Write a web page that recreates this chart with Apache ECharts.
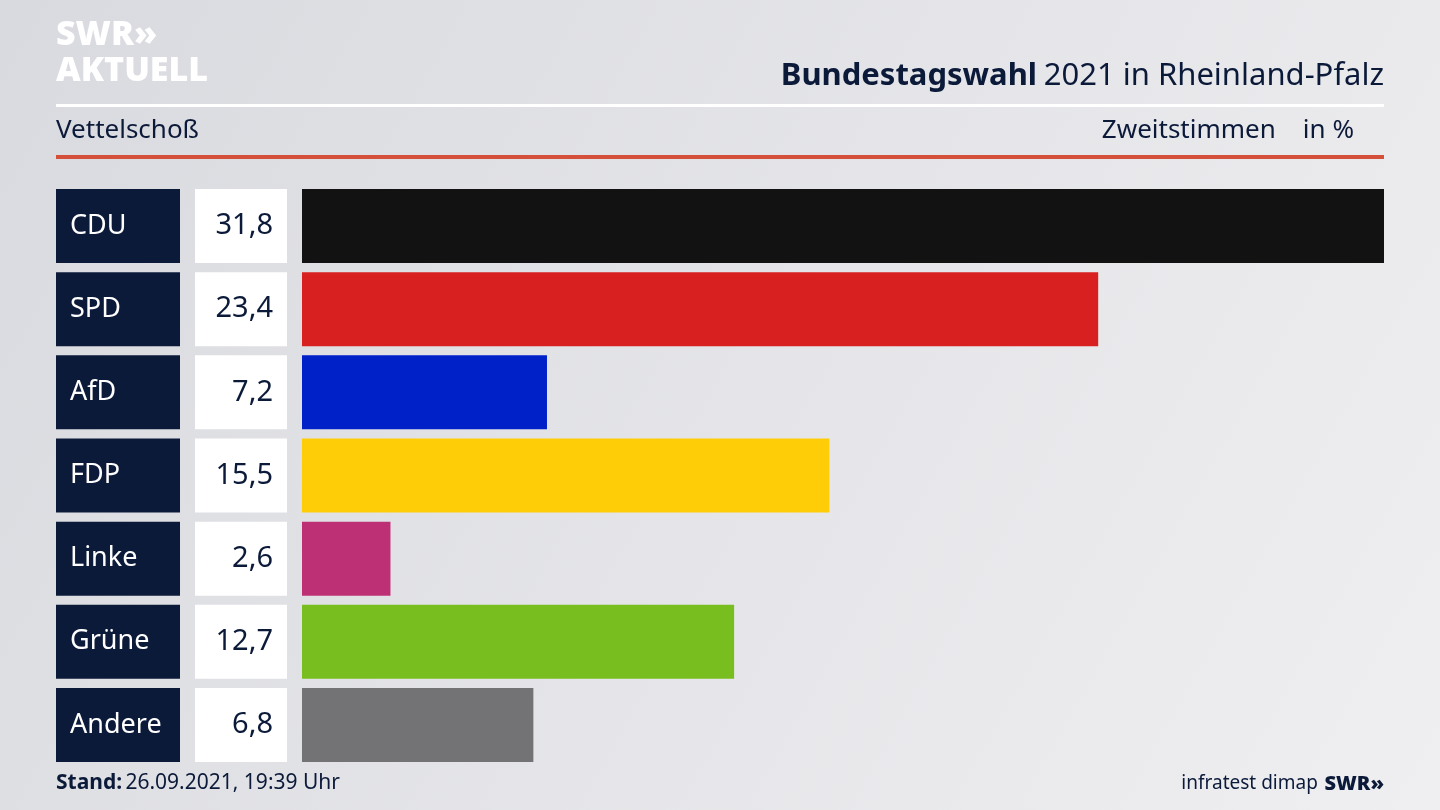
<!DOCTYPE html>
<html><head><meta charset="utf-8">
<script src="https://cdn.jsdelivr.net/npm/echarts@6/dist/echarts.min.js"></script>
<style>html,body{margin:0;padding:0}#c{width:1440px;height:810px}</style>
</head><body><div id="c"></div>
<script>
const parties = ['CDU', 'SPD', 'AfD', 'FDP', 'Linke', 'Grüne', 'Andere'];
const values = [31.8, 23.4, 7.2, 15.5, 2.6, 12.7, 6.8];
const colors = ['#121212', '#d82020', '#0021c8', '#ffcc08', '#be3075', '#78be1e', '#737375'];

const chart = echarts.init(document.getElementById('c'));
const fmt = v => v.toFixed(1).replace('.', ',');
const font = '"Noto Sans", sans-serif';
const navy = '#0c1a3a';

chart.setOption({
  backgroundColor: new echarts.graphic.LinearGradient(0, 0, 1, 1, [
    {offset: 0, color: '#d9dadf'}, {offset: 1, color: '#efeff1'}
  ]),
  animation: false,
  grid: {left: 302, width: 1082, top: 184.5, height: 582},
  xAxis: {type: 'value', min: 0, max: 31.8, show: false},
  yAxis: {
    type: 'category', inverse: true, data: parties,
    axisLine: {show: false}, axisTick: {show: false},
    axisLabel: {
      margin: 15,
      formatter: (name, i) => `{a|${name}}{s|}{b|${fmt(values[i])}}`,
      rich: {
        a: {width: 110, height: 74, lineHeight: 74, padding: [0, 0, 0, 14], backgroundColor: navy,
            color: '#fff', fontSize: 27, fontFamily: font, align: 'left'},
        s: {width: 15, height: 74},
        b: {width: 78, height: 74, lineHeight: 74, padding: [0, 14, 0, 0], backgroundColor: '#fff',
            color: navy, fontSize: 29, fontFamily: font, align: 'right'}
      }
    }
  },
  series: [{
    type: 'bar', barWidth: 74,
    data: values.map((v, i) => ({value: v, itemStyle: {color: colors[i]}}))
  }],
  graphic: [
    {type: 'text', left: 56, top: 17, style: {text: 'SWR»\nAKTUELL', fill: '#fff', font: '900 34px ' + font, lineHeight: 36}},
    {type: 'text', right: 56, top: 61, style: {
      text: '{b|Bundestagswahl}  {r|2021 in Rheinland-Pfalz}',
      rich: {b: {font: 'bold 31px ' + font, fill: navy}, r: {font: '31px ' + font, fill: navy}}}},
    {type: 'rect', shape: {x: 56, y: 104, width: 1328, height: 3}, style: {fill: '#fff'}},
    {type: 'text', left: 56, top: 118, style: {text: 'Vettelschoß', fill: navy, font: '26px ' + font}},
    {type: 'text', right: 86, top: 118, style: {text: 'Zweitstimmen    in %', fill: navy, font: '26px ' + font}},
    {type: 'rect', shape: {x: 56, y: 155, width: 1328, height: 4}, style: {fill: '#d4503a'}},
    {type: 'text', left: 56, top: 773, style: {
      text: '{b|Stand:} {r|26.09.2021, 19:39 Uhr}',
      rich: {b: {font: 'bold 21px ' + font, fill: navy}, r: {font: '21px ' + font, fill: navy}}}},
    {type: 'text', right: 56, top: 774, style: {
      text: '{r|infratest dimap}  {b|SWR»}',
      rich: {b: {font: '900 20px ' + font, fill: navy}, r: {font: '19px ' + font, fill: navy}}}}
  ]
});
</script></body></html>
